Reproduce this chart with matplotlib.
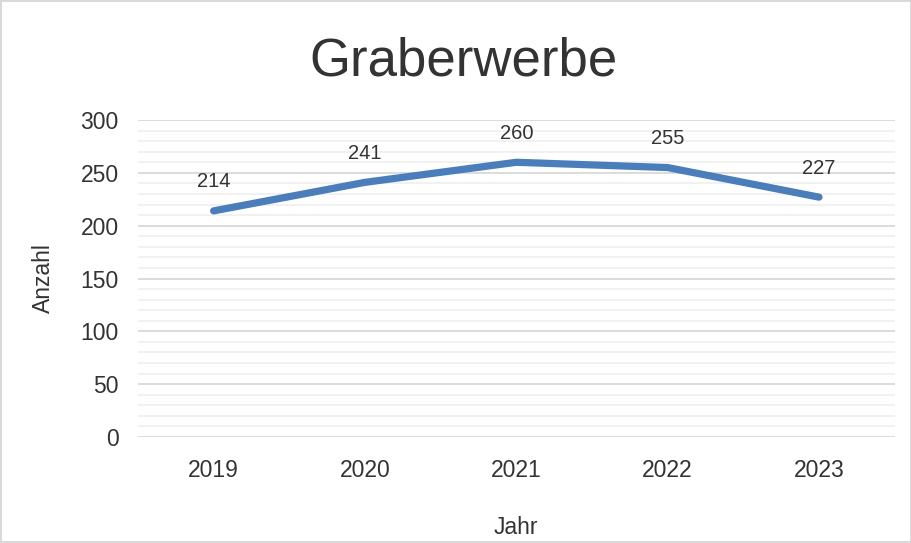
import matplotlib
matplotlib.use("Agg")
from matplotlib import pyplot as plt
from matplotlib.ticker import MultipleLocator

plt.rcParams['font.family'] = ['Liberation Sans', 'DejaVu Sans']

years = ["2019", "2020", "2021", "2022", "2023"]
counts = [214, 241, 260, 255, 227]

txt = "#333333"

fig = plt.figure(figsize=(9.12, 5.43), dpi=100)
fig.patch.set_edgecolor("#d9d9d9")
fig.patch.set_linewidth(1.5)
ax = fig.add_axes([0.1513, 0.1952, 0.8297, 0.5838])

xs = list(range(len(years)))
ax.plot(xs, counts, color="#4a7ebb", linewidth=5.2, solid_capstyle="round",
        solid_joinstyle="round", zorder=3)

# Datenbeschriftungen über den Punkten
for x, v in zip(xs, counts):
    ax.annotate(str(v), (x, v), xytext=(0, 14), textcoords="offset points",
                ha="center", va="bottom", fontsize=14.5, color=txt)

ax.set_xlim(-0.5, len(years) - 0.5)
ax.set_ylim(0, 300)
ax.set_xticks(xs)
ax.set_xticklabels(years)
ax.yaxis.set_major_locator(MultipleLocator(50))
ax.yaxis.set_minor_locator(MultipleLocator(10))
ax.grid(axis="y", which="major", color="#d9d9d9", linewidth=1.3)
ax.grid(axis="y", which="minor", color="#f0f0f0", linewidth=1.3)
ax.set_axisbelow(True)
for s in ax.spines.values():
    s.set_visible(False)
ax.tick_params(axis="both", which="both", length=0, labelsize=16.5, colors=txt)
ax.tick_params(axis="x", pad=16)
ax.tick_params(axis="y", pad=14)

ax.set_ylabel("Anzahl", fontsize=16.5, color=txt, labelpad=18)
ax.set_xlabel("Jahr", fontsize=16.5, color=txt, labelpad=24)
fig.text(0.508, 0.887, "Graberwerbe", ha="center", va="center", fontsize=38, color=txt)

fig.savefig("out.png", dpi=100)
